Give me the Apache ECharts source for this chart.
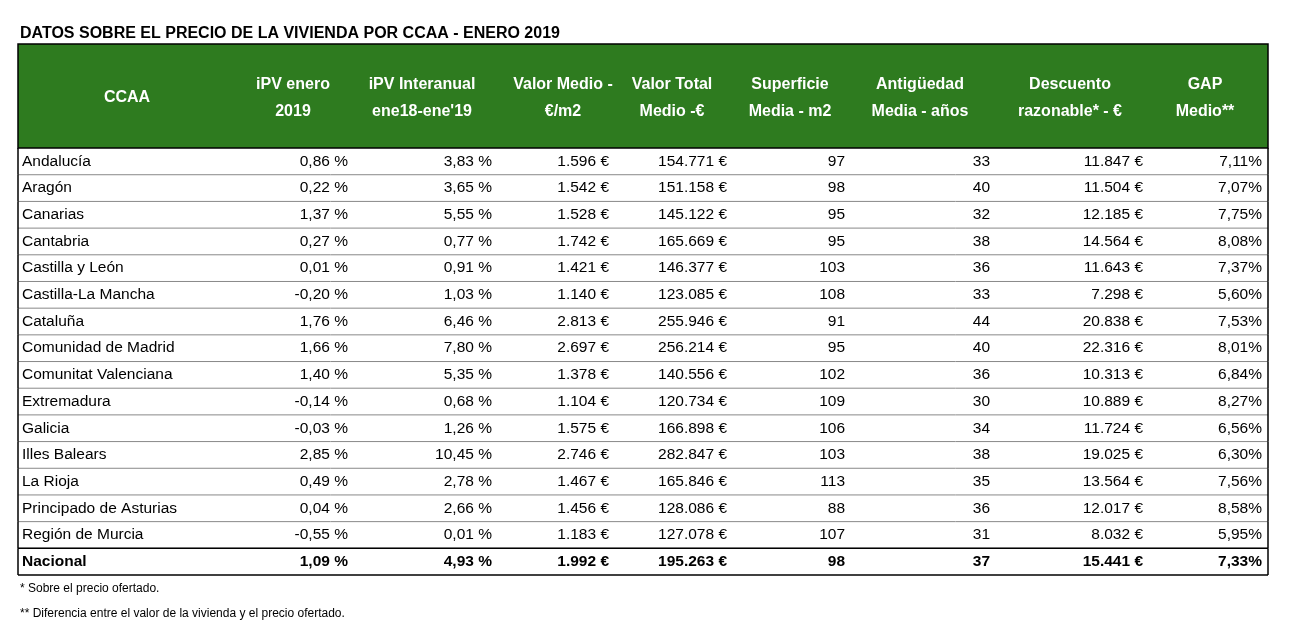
<!DOCTYPE html>
<html><head><meta charset="utf-8">
<script src="https://cdn.jsdelivr.net/npm/echarts@6/dist/echarts.min.js"></script>
<style>html,body{margin:0;padding:0;background:#fff}#c{width:1307px;height:639px}</style>
</head><body><div id="c"></div>
<script>
const title = 'DATOS SOBRE EL PRECIO DE LA VIVIENDA POR CCAA - ENERO 2019';
const headers = [['CCAA'],['iPV enero','2019'],['iPV Interanual',"ene18-ene'19"],['Valor Medio -','€/m2'],['Valor Total','Medio -€'],['Superficie','Media - m2'],['Antigüedad','Media - años'],['Descuento','razonable* - €'],['GAP','Medio**']];
const ccaa = ['Andalucía','Aragón','Canarias','Cantabria','Castilla y León','Castilla-La Mancha','Cataluña','Comunidad de Madrid','Comunitat Valenciana','Extremadura','Galicia','Illes Balears','La Rioja','Principado de Asturias','Región de Murcia','Nacional'];
const ipv = ['0,86 %','0,22 %','1,37 %','0,27 %','0,01 %','-0,20 %','1,76 %','1,66 %','1,40 %','-0,14 %','-0,03 %','2,85 %','0,49 %','0,04 %','-0,55 %','1,09 %'];
const interanual = ['3,83 %','3,65 %','5,55 %','0,77 %','0,91 %','1,03 %','6,46 %','7,80 %','5,35 %','0,68 %','1,26 %','10,45 %','2,78 %','2,66 %','0,01 %','4,93 %'];
const valorM2 = ['1.596 €','1.542 €','1.528 €','1.742 €','1.421 €','1.140 €','2.813 €','2.697 €','1.378 €','1.104 €','1.575 €','2.746 €','1.467 €','1.456 €','1.183 €','1.992 €'];
const valorTotal = ['154.771 €','151.158 €','145.122 €','165.669 €','146.377 €','123.085 €','255.946 €','256.214 €','140.556 €','120.734 €','166.898 €','282.847 €','165.846 €','128.086 €','127.078 €','195.263 €'];
const superficie = ['97','98','95','95','103','108','91','95','102','109','106','103','113','88','107','98'];
const antiguedad = ['33','40','32','38','36','33','44','40','36','30','34','38','35','36','31','37'];
const descuento = ['11.847 €','11.504 €','12.185 €','14.564 €','11.643 €','7.298 €','20.838 €','22.316 €','10.313 €','10.889 €','11.724 €','19.025 €','13.564 €','12.017 €','8.032 €','15.441 €'];
const gap = ['7,11%','7,07%','7,75%','8,08%','7,37%','5,60%','7,53%','8,01%','6,84%','8,27%','6,56%','6,30%','7,56%','8,58%','5,95%','7,33%'];
const notes = ['* Sobre el precio ofertado.','** Diferencia entre el valor de la vivienda y el precio ofertado.'];

const cols = [ccaa, ipv, interanual, valorM2, valorTotal, superficie, antiguedad, descuento, gap];
const colX = [4,330,474,591,709,827,972,1125,1244];
const headX = [109,275,404,545,654,772,902,1052,1187];
const HEAD = 3.9, TOTAL = HEAD + ccaa.length, W = 1250;
const font = '"Liberation Sans", Arial, sans-serif';

const chart = echarts.init(document.getElementById('c'));
chart.setOption({
  animation:false,
  title:{text:title,left:15,top:21,textStyle:{fontSize:16,fontWeight:'bold',color:'#000',fontFamily:font}},
  grid:{left:18,right:39,top:44,bottom:64},
  xAxis:{type:'value',min:0,max:W,show:false},
  yAxis:{type:'value',min:0,max:TOTAL,inverse:true,show:false},
  graphic:[
    {type:'text',left:20,top:583,style:{text:notes[0],fontSize:12,fontFamily:font,fill:'#000'}},
    {type:'text',left:20,top:608,style:{text:notes[1],fontSize:12,fontFamily:font,fill:'#000'}}
  ],
  series:[
    {type:'custom',data:[0],renderItem:function(p,api){
      const a=api.coord([0,0]), b=api.coord([W,HEAD]);
      const ch=[{type:'rect',shape:{x:a[0],y:a[1],width:b[0]-a[0],height:b[1]-a[1]},style:{fill:'#2E7B1F',stroke:'#000',lineWidth:1.5}}];
      headers.forEach((h,i)=>{
        const x=api.coord([headX[i],0])[0];
        const y=(a[1]+b[1])/2+2;
        ch.push({type:'text',style:{text:h.join('\n'),x:x,y:y,align:'center',verticalAlign:'middle',fill:'#fff',fontSize:16,fontWeight:'bold',fontFamily:font,lineHeight:27}});
      });
      return {type:'group',children:ch};
    }},
    {type:'custom',data:ccaa.map((c,i)=>i),renderItem:function(p,api){
      const r=p.dataIndex, last=r===ccaa.length-1;
      const top=api.coord([0,HEAD+r]), bot=api.coord([W,HEAD+r+1]);
      const cy=(top[1]+bot[1])/2;
      const ch=[];
      ch.push({type:'line',shape:{x1:top[0],y1:bot[1],x2:bot[0],y2:bot[1]},style:{stroke:last?'#000':'#888',lineWidth:last?1.5:1}});
      if(last) ch.push({type:'line',shape:{x1:top[0],y1:top[1],x2:bot[0],y2:top[1]},style:{stroke:'#000',lineWidth:1.5}});
      ch.push({type:'line',shape:{x1:top[0],y1:top[1],x2:top[0],y2:bot[1]},style:{stroke:'#000',lineWidth:1.5}});
      ch.push({type:'line',shape:{x1:bot[0],y1:top[1],x2:bot[0],y2:bot[1]},style:{stroke:'#000',lineWidth:1.5}});
      cols.forEach((arr,i)=>{
        const x=api.coord([colX[i],0])[0];
        ch.push({type:'text',style:{text:arr[r],x:x,y:cy,align:i===0?'left':'right',verticalAlign:'middle',fill:'#000',fontSize:15.5,fontWeight:last?'bold':'normal',fontFamily:font}});
      });
      return {type:'group',children:ch};
    }}
  ]
});
</script></body></html>
